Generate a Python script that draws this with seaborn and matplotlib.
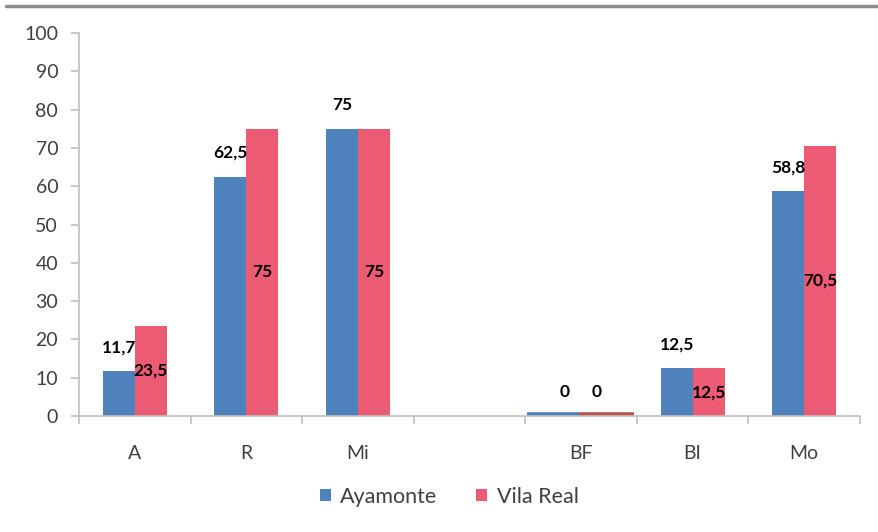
import matplotlib
matplotlib.use("Agg")
import matplotlib.pyplot as plt
from matplotlib.lines import Line2D
import seaborn as sns
import pandas as pd

# Categories (the blank slot is an intentional gap between groups)
categories = ["A", "R", "Mi", " ", "BF", "BI", "Mo"]
series_names = ["Ayamonte", "Vila Real"]
ayamonte = {"A": 11.7, "R": 62.5, "Mi": 75, "BF": 0, "BI": 12.5, "Mo": 58.8}
vila_real = {"A": 23.5, "R": 75, "Mi": 75, "BF": 0, "BI": 12.5, "Mo": 70.5}
y_ticks = [0, 10, 20, 30, 40, 50, 60, 70, 80, 90, 100]

BLUE = "#4F81BD"
PINK = "#EC5A74"
DARK_RED = "#C0504D"

rows = []
for name, vals in zip(series_names, [ayamonte, vila_real]):
    for cat, v in vals.items():
        rows.append({"cat": cat, "serie": name, "valor": v})
df = pd.DataFrame(rows)

sns.set_style("white")
plt.rcParams["font.family"] = ["Lato", "DejaVu Sans"]

fig = plt.figure(figsize=(8.79, 5.32), dpi=100)
ax = fig.add_axes([79 / 879, 1 - 416 / 532, (860 - 79) / 879, (416 - 33) / 532])

group_width = 0.575
sns.barplot(data=df, x="cat", y="valor", hue="serie", order=categories,
            hue_order=series_names, palette=[BLUE, PINK], width=group_width,
            gap=0, saturation=1, errorbar=None, ax=ax, legend=True,
            edgecolor="none", linewidth=0)

# The zero-valued BF bars span the whole slot as thin strips along the axis
bf_idx = categories.index("BF")
for p in ax.patches:
    xc = p.get_x() + p.get_width() / 2
    if abs(xc - bf_idx) < 0.5 and p.get_height() == 0:
        if xc < bf_idx:
            p.set_x(bf_idx - 0.485)
            p.set_width(0.466)
            p.set_edgecolor(BLUE)
        else:
            p.set_x(bf_idx - 0.019)
            p.set_width(0.493)
            p.set_facecolor(DARK_RED)
            p.set_edgecolor(DARK_RED)
        p.set_linewidth(5.5)

# Value labels
def fmt(v):
    return f"{v:g}".replace(".", ",")

LABEL_SIZE = 12.5
half = group_width / 4
for i, cat in enumerate(categories):
    if cat in ayamonte:
        v = ayamonte[cat]
        ax.annotate(fmt(v), xy=(i - half, v), xytext=(0, 17), textcoords="offset points",
                    ha="center", va="center", fontsize=LABEL_SIZE, fontweight="bold", color="black")
    if cat in vila_real:
        v = vila_real[cat]
        if v == 0:
            ax.annotate(fmt(v), xy=(i + half, v), xytext=(0, 17), textcoords="offset points",
                        ha="center", va="center", fontsize=LABEL_SIZE, fontweight="bold", color="black")
        else:
            ax.annotate(fmt(v), xy=(i + half, v / 2), ha="center", va="center",
                        fontsize=LABEL_SIZE, fontweight="bold", color="black")

ax.set_xlim(-0.5, len(categories) - 0.5)
ax.set_ylim(0, 100)
ax.set_yticks(y_ticks)
ax.set_xlabel("")
ax.set_ylabel("")

for side in ["top", "right"]:
    ax.spines[side].set_visible(False)
for side in ["left", "bottom"]:
    ax.spines[side].set_color("#BFBFBF")
    ax.spines[side].set_linewidth(1.2)

TICK_SIZE = 14
ax.tick_params(axis="y", which="major", length=6, width=1.2, color="#BFBFBF",
               labelsize=TICK_SIZE, labelcolor="#404040", pad=9, direction="out", left=True)
ax.set_xticks(range(len(categories)))
ax.set_xticklabels(categories)
ax.tick_params(axis="x", which="major", length=0, labelsize=TICK_SIZE, labelcolor="#404040", pad=21)
ax.set_xticks([i - 0.5 for i in range(len(categories) + 1)], minor=True)
ax.tick_params(axis="x", which="minor", length=6, width=1.2, color="#BFBFBF",
               direction="out", bottom=True)

sns.move_legend(ax, "center", bbox_to_anchor=(0.511, 1 - 497 / 532),
                bbox_transform=fig.transFigure, ncol=2, frameon=False, title=None,
                fontsize=15.5, handlelength=0.5, handleheight=0.5, handletextpad=0.45,
                columnspacing=1.8)
for t in ax.get_legend().get_texts():
    t.set_color("#404040")

# Thin gray rule across the top of the figure
fig.add_artist(Line2D([6 / 879, 1.0], [1 - 5.5 / 532, 1 - 5.5 / 532],
                      transform=fig.transFigure, color="#8C8C8C", linewidth=2.5))

fig.savefig("out.png", dpi=100)
